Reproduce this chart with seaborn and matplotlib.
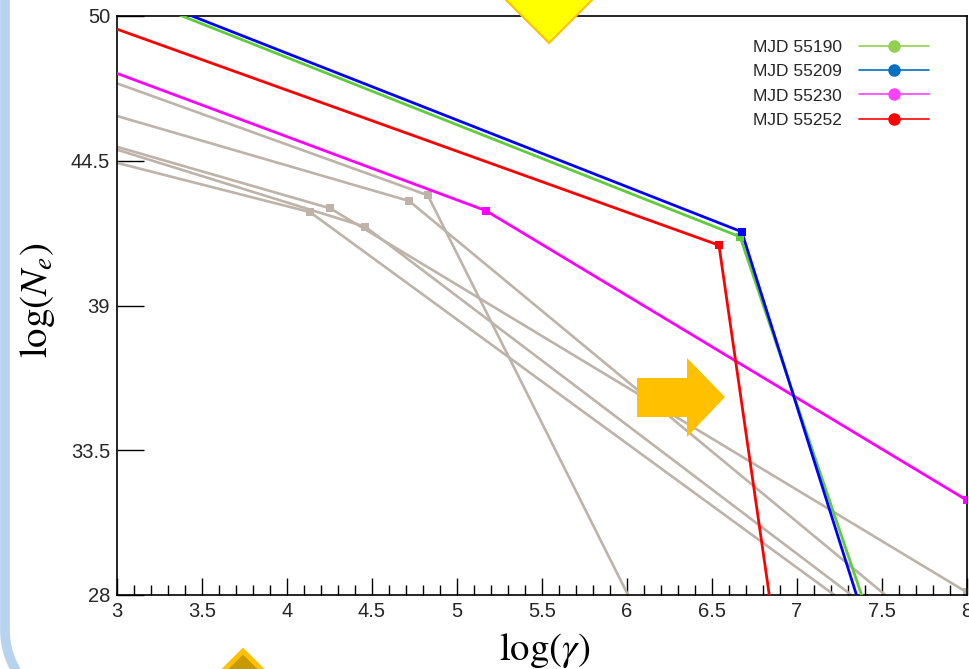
import matplotlib
matplotlib.use("Agg")
import numpy as np
import pandas as pd
import seaborn as sns
import matplotlib.pyplot as plt
from matplotlib.patches import Polygon
from matplotlib.lines import Line2D
from matplotlib.ticker import FixedLocator, FixedFormatter, MultipleLocator

# Broken power-law electron spectra: (start, break, end) in log(gamma) / log(Ne)
labels = ["MJD 55190", "MJD 55209", "MJD 55230", "MJD 55252"]
line_colors = {"MJD 55190": "#5FCC3A", "MJD 55209": "#0000FF",
               "MJD 55230": "#FF00FF", "MJD 55252": "#FF0000"}
legend_colors = ["#92D050", "#0070C0", "#FF40FF", "#FF0000"]

mjd55190_x = [3.0, 6.665, 7.38]
mjd55190_y = [50.98, 41.61, 28.0]
mjd55209_x = [3.0, 6.675, 7.35]
mjd55209_y = [51.12, 41.80, 28.0]
mjd55230_x = [3.0, 5.171, 8.0]
mjd55230_y = [47.82, 42.60, 31.60]
mjd55252_x = [3.0, 6.541, 6.837]
mjd55252_y = [49.50, 41.29, 28.0]

# Earlier epochs, drawn in grey
grey_x = [[3.0, 4.828, 6.006],
          [3.0, 4.719, 7.52],
          [3.0, 4.255, 8.0],
          [3.0, 4.461, 7.32],
          [3.0, 4.135, 7.22]]
grey_y = [[47.44, 43.19, 28.0],
          [46.20, 42.97, 28.0],
          [45.03, 42.69, 28.1],
          [44.92, 41.99, 28.0],
          [44.42, 42.55, 28.0]]

x_ticks = [3, 3.5, 4, 4.5, 5, 5.5, 6, 6.5, 7, 7.5, 8]
x_tick_labels = ["3", "3.5", "4", "4.5", "5", "5.5", "6", "6.5", "7", "7.5", "8"]
y_ticks = [28, 33.5, 39, 44.5, 50]
y_tick_labels = ["28", "33.5", "39", "44.5", "50"]

GREY = "#BDB3A9"
W, H = 969, 669

sns.set_theme(style="white")
plt.rcParams["font.family"] = ["Liberation Sans", "DejaVu Sans"]
plt.rcParams["mathtext.fontset"] = "stix"

fig = plt.figure(figsize=(W / 100, H / 100), dpi=100)
fig.patch.set_facecolor("white")
ax = fig.add_axes([117 / W, 1 - 595 / H, 850 / W, 579 / H])
ax.set_facecolor("white")

# long-form tables
colour_series = {"MJD 55190": (mjd55190_x, mjd55190_y),
                 "MJD 55209": (mjd55209_x, mjd55209_y),
                 "MJD 55230": (mjd55230_x, mjd55230_y),
                 "MJD 55252": (mjd55252_x, mjd55252_y)}
rows = []
for name, (xs, ys) in colour_series.items():
    for i, (xv, yv) in enumerate(zip(xs, ys)):
        rows.append({"series": name, "log_gamma": xv, "log_Ne": yv, "idx": i})
df = pd.DataFrame(rows)

grows = []
for k, (xs, ys) in enumerate(zip(grey_x, grey_y)):
    for i, (xv, yv) in enumerate(zip(xs, ys)):
        grows.append({"unit": k, "log_gamma": xv, "log_Ne": yv, "idx": i})
gdf = pd.DataFrame(grows)

x_min, x_max = x_ticks[0], x_ticks[-1]

# grey history
sns.lineplot(data=gdf, x="log_gamma", y="log_Ne", units="unit", estimator=None,
             sort=False, color=GREY, linewidth=1.9, ax=ax, legend=False, zorder=2)
gmark = gdf[(gdf["idx"] == 1) | ((gdf["idx"] == 2) & (gdf["log_gamma"] >= x_max))]
sns.scatterplot(data=gmark, x="log_gamma", y="log_Ne", color=GREY, marker="s",
                s=26, linewidth=0, ax=ax, legend=False, zorder=2)

# coloured epochs (magenta underneath, blue on top)
hue_order = ["MJD 55230", "MJD 55252", "MJD 55190", "MJD 55209"]
sns.lineplot(data=df, x="log_gamma", y="log_Ne", hue="series", hue_order=hue_order,
             palette=line_colors, estimator=None, sort=False, linewidth=2.0,
             ax=ax, legend=False, zorder=3)
cmark = df[(df["idx"] == 1) | ((df["idx"] == 2) & (df["log_gamma"] >= x_max))]
sns.scatterplot(data=cmark, x="log_gamma", y="log_Ne", hue="series", hue_order=hue_order,
                palette=line_colors, marker="s", s=30, linewidth=0, ax=ax,
                legend=False, zorder=4)

ax.set_xlim(x_min, x_max)
ax.set_ylim(y_ticks[0], y_ticks[-1])

ax.xaxis.set_major_locator(FixedLocator(x_ticks))
ax.xaxis.set_major_formatter(FixedFormatter(x_tick_labels))
ax.xaxis.set_minor_locator(MultipleLocator(0.1))
ax.yaxis.set_major_locator(FixedLocator(y_ticks))
ax.yaxis.set_major_formatter(FixedFormatter(y_tick_labels))

ax.tick_params(axis="x", which="major", direction="in", length=12, width=1.0,
               color="black", labelsize=14.5, pad=5, bottom=True, top=False)
ax.tick_params(axis="x", which="minor", direction="in", length=7, width=1.0,
               color="black", bottom=True, top=False)
ax.tick_params(axis="y", which="major", direction="in", length=19.5, width=1.0,
               color="black", labelsize=14.5, pad=5, left=True, right=False)
for s in ax.spines.values():
    s.set_visible(True)
    s.set_color("black")
    s.set_linewidth(1.2)

ax.set_xlabel(r"$\log(\gamma)$", fontsize=28, color="black")
ax.set_ylabel(r"$\log(N_e)$", fontsize=28, color="black")
ax.xaxis.set_label_coords((545 - 117) / 850, (595 - 650) / 579)
ax.xaxis.label.set_va("center")
ax.yaxis.set_label_coords((37 - 117) / 850, (595 - 300) / 579)
ax.yaxis.label.set_va("center")

# legend
handles = [Line2D([], [], color=c, marker="o", markersize=8, linewidth=1.2)
           for c in legend_colors]
ax.legend(handles, labels, loc="upper left", bbox_to_anchor=(753 / W, 1 - 40 / H),
          bbox_transform=fig.transFigure, frameon=False, markerfirst=False,
          fontsize=12.5, handlelength=4.0, handletextpad=1.0, labelspacing=0.52,
          borderpad=0, borderaxespad=0)


def px(points):
    return [(x / W, 1 - y / H) for x, y in points]


# slide decorations
diamond_top = Polygon(px([(549, -55), (598, -6), (549, 43), (500, -6)]), closed=True,
                      facecolor="#FFFF00", edgecolor="#FFC000", linewidth=1.5,
                      transform=fig.transFigure, zorder=10)
fig.add_artist(diamond_top)

arrow = Polygon(px([(637, 378), (687, 378), (687, 358), (725, 397), (687, 437),
                    (687, 417), (637, 417)]), closed=True, facecolor="#FFC000",
                edgecolor="none", transform=fig.transFigure, zorder=10)
fig.add_artist(arrow)

diamond_bot = Polygon(px([(243, 651), (292, 700), (243, 749), (194, 700)]), closed=True,
                      facecolor="#C99A00", edgecolor="#FFC000", linewidth=3.5,
                      transform=fig.transFigure, zorder=10)
fig.add_artist(diamond_bot)

# rounded slide frame on the left
t = np.linspace(0, np.pi / 2, 60)
R, cx, cy = 80, 5 + 80, 630
fx = np.concatenate([[5, 5], cx - R * np.cos(t), [400]])
fy = np.concatenate([[-10, cy], cy + R * np.sin(t), [cy + R]])
frame = Line2D(fx / W, 1 - fy / H, color="#B7D3EE", linewidth=7,
               transform=fig.transFigure, zorder=11)
fig.add_artist(frame)

fig.savefig("out.png", dpi=100)
